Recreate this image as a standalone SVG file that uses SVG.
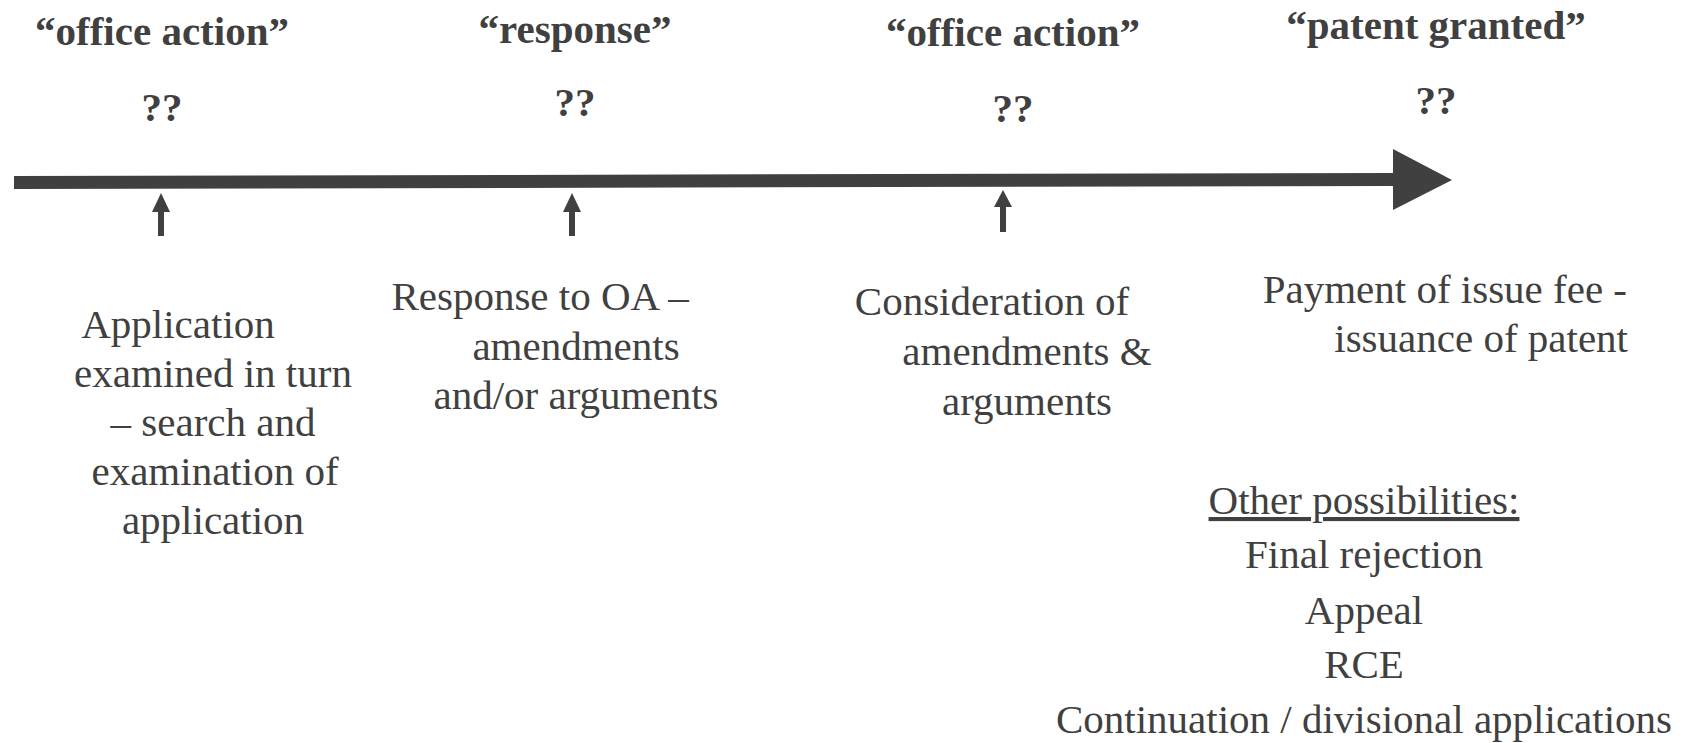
<svg xmlns="http://www.w3.org/2000/svg" width="1688" height="743" viewBox="0 0 1688 743">
<style>
.t{font-family:"Liberation Serif","Times New Roman",serif;font-size:41px;fill:#404040;text-anchor:middle}
.b{font-weight:bold}
.ar{fill:#404040}
</style>
<rect width="1688" height="743" fill="#ffffff"/>
<g id="connectors">
<polygon class="ar" points="14,176 1393,173 1393,149 1452,180 1393,210 1393,186 14,189"/>
<polygon class="ar" points="161,193 170,212 164,212 164,236 158,236 158,212 152,212"/>
<polygon class="ar" points="572,193 581,212 575,212 575,236 569,236 569,212 563,212"/>
<polygon class="ar" points="1003,190 1012,207 1006,207 1006,232 1000,232 1000,207 994,207"/>
</g>
<g id="node1">
<text class="t b" x="162" y="45">“office action”</text>
<text class="t b" x="162" y="121">??</text>
<text class="t" x="178" y="338">Application</text>
<text class="t" x="213" y="387">examined in turn</text>
<text class="t" x="213" y="436">– search and</text>
<text class="t" x="215" y="485">examination of</text>
<text class="t" x="213" y="534">application</text>
</g>
<g id="node2">
<text class="t b" x="575" y="43">“response”</text>
<text class="t b" x="575" y="116">??</text>
<text class="t" x="540" y="310">Response to OA –</text>
<text class="t" x="576" y="360">amendments</text>
<text class="t" x="576" y="409">and/or arguments</text>
</g>
<g id="node3">
<text class="t b" x="1013" y="46">“office action”</text>
<text class="t b" x="1013" y="122">??</text>
<text class="t" x="992" y="315">Consideration of</text>
<text class="t" x="1027" y="365">amendments &amp;</text>
<text class="t" x="1027" y="415">arguments</text>
</g>
<g id="node4">
<text class="t b" x="1436" y="39">“patent granted”</text>
<text class="t b" x="1436" y="114">??</text>
<text class="t" x="1627" y="303" style="text-anchor:end">Payment of issue fee -</text>
<text class="t" x="1628" y="352" style="text-anchor:end">issuance of patent</text>
</g>
<g id="node5">
<text class="t" x="1364" y="514" text-decoration="underline">Other possibilities:</text>
<text class="t" x="1364" y="568">Final rejection</text>
<text class="t" x="1364" y="624">Appeal</text>
<text class="t" x="1364" y="678">RCE</text>
<text class="t" x="1364" y="733">Continuation / divisional applications</text>
</g>
</svg>
